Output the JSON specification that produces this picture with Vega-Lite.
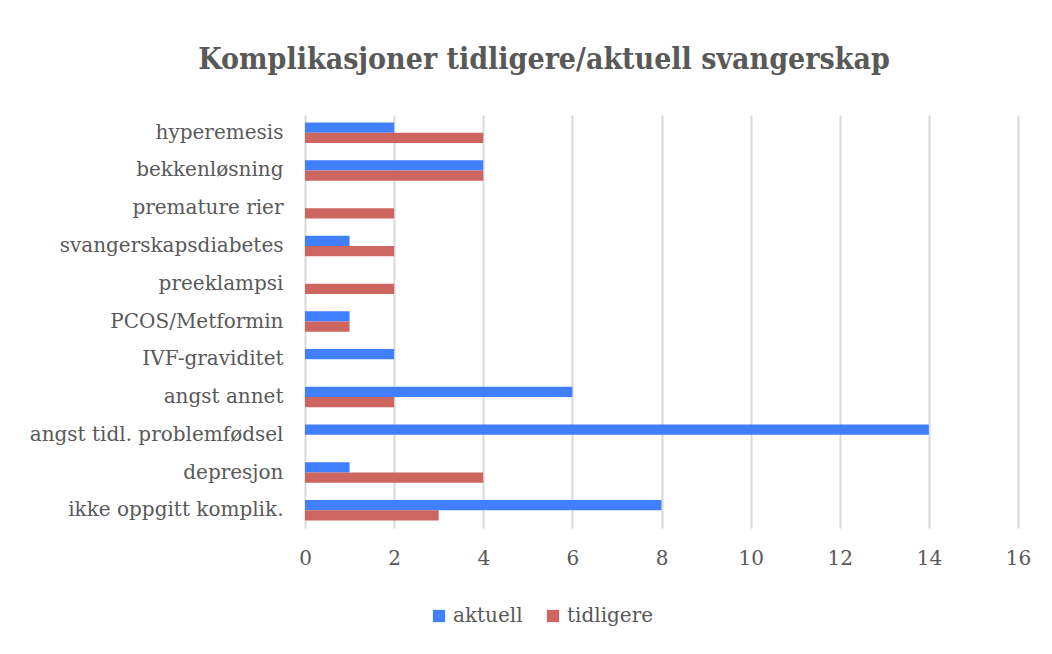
{
  "$schema": "https://vega.github.io/schema/vega-lite/v6.json",
  "width": 713,
  "height": 413,
  "autosize": {"type": "none"},
  "padding": {"left": 305, "top": 115, "right": 34, "bottom": 126},
  "background": "white",
  "title": {
    "text": "Komplikasjoner tidligere/aktuell svangerskap",
    "font": "DejaVu Serif Condensed, DejaVu Serif",
    "fontSize": 30,
    "fontWeight": "bold",
    "color": "#595959",
    "anchor": "middle",
    "frame": "bounds",
    "offset": 40,
    "dx": 14
  },
  "data": {
    "values": [
      {"kategori": "hyperemesis", "serie": "aktuell", "antall": 2},
      {"kategori": "hyperemesis", "serie": "tidligere", "antall": 4},
      {"kategori": "bekkenløsning", "serie": "aktuell", "antall": 4},
      {"kategori": "bekkenløsning", "serie": "tidligere", "antall": 4},
      {"kategori": "premature rier", "serie": "aktuell", "antall": 0},
      {"kategori": "premature rier", "serie": "tidligere", "antall": 2},
      {"kategori": "svangerskapsdiabetes", "serie": "aktuell", "antall": 1},
      {"kategori": "svangerskapsdiabetes", "serie": "tidligere", "antall": 2},
      {"kategori": "preeklampsi", "serie": "aktuell", "antall": 0},
      {"kategori": "preeklampsi", "serie": "tidligere", "antall": 2},
      {"kategori": "PCOS/Metformin", "serie": "aktuell", "antall": 1},
      {"kategori": "PCOS/Metformin", "serie": "tidligere", "antall": 1},
      {"kategori": "IVF-graviditet", "serie": "aktuell", "antall": 2},
      {"kategori": "IVF-graviditet", "serie": "tidligere", "antall": 0},
      {"kategori": "angst annet", "serie": "aktuell", "antall": 6},
      {"kategori": "angst annet", "serie": "tidligere", "antall": 2},
      {"kategori": "angst tidl. problemfødsel", "serie": "aktuell", "antall": 14},
      {"kategori": "angst tidl. problemfødsel", "serie": "tidligere", "antall": 0},
      {"kategori": "depresjon", "serie": "aktuell", "antall": 1},
      {"kategori": "depresjon", "serie": "tidligere", "antall": 4},
      {"kategori": "ikke oppgitt komplik.", "serie": "aktuell", "antall": 8},
      {"kategori": "ikke oppgitt komplik.", "serie": "tidligere", "antall": 3}
    ]
  },
  "mark": {"type": "bar"},
  "encoding": {
    "y": {
      "field": "kategori",
      "type": "nominal",
      "sort": null,
      "scale": {"paddingInner": 0.46, "paddingOuter": 0.2},
      "axis": {
        "title": null,
        "ticks": false,
        "domain": false,
        "labelFont": "DejaVu Serif",
        "labelFontSize": 20,
        "labelColor": "#595959",
        "labelPadding": 22,
        "labelLimit": 300
      }
    },
    "yOffset": {
      "field": "serie",
      "type": "nominal",
      "sort": ["aktuell", "tidligere"],
      "scale": {"paddingInner": 0, "paddingOuter": 0}
    },
    "x": {
      "field": "antall",
      "type": "quantitative",
      "scale": {"domain": [0, 16], "nice": false},
      "axis": {
        "title": null,
        "values": [0, 2, 4, 6, 8, 10, 12, 14, 16],
        "ticks": false,
        "domain": false,
        "grid": true,
        "gridColor": "#d9d9d9",
        "gridWidth": 2,
        "labelFlush": false,
        "labelFont": "DejaVu Serif",
        "labelFontSize": 20,
        "labelColor": "#595959",
        "labelPadding": 20
      }
    },
    "color": {
      "field": "serie",
      "type": "nominal",
      "sort": ["aktuell", "tidligere"],
      "scale": {"domain": ["aktuell", "tidligere"], "range": ["#4080FF", "#CD6660"]},
      "legend": {
        "title": null,
        "orient": "none",
        "direction": "horizontal",
        "legendX": 124,
        "legendY": 491,
        "symbolType": "square",
        "symbolSize": 150,
        "symbolStrokeWidth": 0,
        "symbolOpacity": 1,
        "labelFont": "DejaVu Serif",
        "labelFontSize": 20,
        "labelColor": "#595959",
        "labelOffset": 4,
        "columnPadding": 20
      }
    }
  },
  "config": {
    "view": {"stroke": null},
    "axis": {"labelFontWeight": "normal"}
  }
}
